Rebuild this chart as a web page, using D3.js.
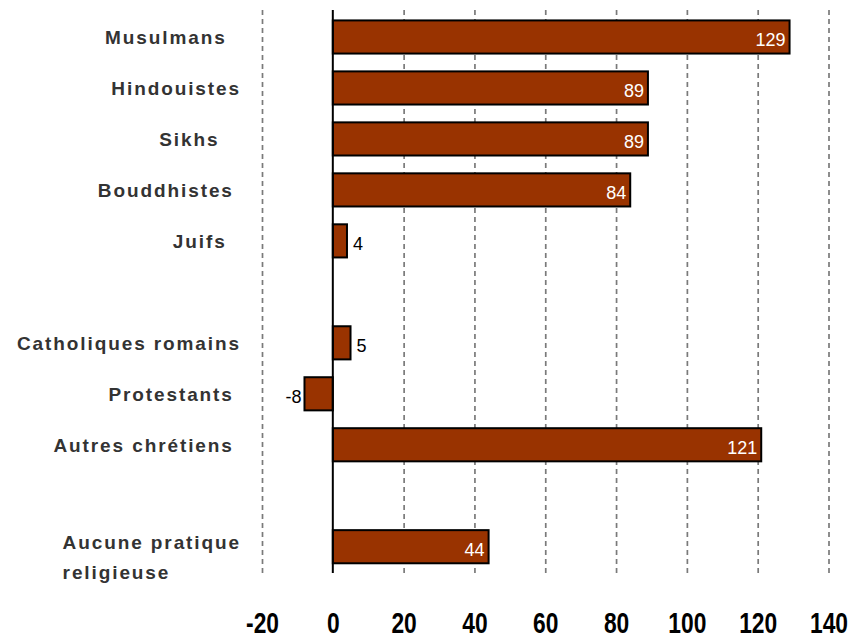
<!DOCTYPE html>
<html>
<head>
<meta charset="utf-8">
<script src="https://cdn.jsdelivr.net/npm/d3@7"></script>
<style>
  html, body { margin: 0; padding: 0; background: #fff; }
  svg { display: block; }
</style>
</head>
<body>
<svg id="chart" width="850" height="640"></svg>
<script>
// ---- data ----
const categories = ["Musulmans  ", "Hindouistes", "Sikhs   ", "Bouddhistes ", "Juifs  ", "",
  "Catholiques romains", "Protestants ", "Autres chrétiens ", "", "Aucune pratique\nreligieuse"];
const values = [129, 89, 89, 84, 4, null, 5, -8, 121, null, 44];
const tickValues = [-20, 0, 20, 40, 60, 80, 100, 120, 140];
const tickLabels = ["-20", "0", "20", "40", "60", "80", "100", "120", "140"];

// ---- layout ----
const svg = d3.select("#chart");
const x = d3.scaleLinear().domain([-20, 140]).range([262, 828.5]);
const y = d3.scaleBand().domain(d3.range(categories.length))
  .range([11.5, 572.2]).paddingInner(0.35).paddingOuter(0.175);
const gridTop = 10, gridBottom = 573;

// gridlines
const grid = svg.append("g").attr("transform", `translate(0,${gridBottom})`)
  .call(d3.axisBottom(x).tickValues(tickValues.filter(d => d !== 0))
    .tickSize(-(gridBottom - gridTop)).tickFormat(""));
grid.select(".domain").remove();
grid.selectAll(".tick line").attr("stroke", "#7a7a7a").attr("stroke-width", 1.7)
  .attr("stroke-dasharray", "5,4");

// bars
const rows = categories.map((c, i) => ({ i, c, v: values[i] })).filter(d => d.v !== null);
svg.append("g").selectAll("rect").data(rows).join("rect")
  .attr("x", d => x(Math.min(0, d.v)))
  .attr("y", d => y(d.i))
  .attr("width", d => Math.abs(x(d.v) - x(0)))
  .attr("height", y.bandwidth())
  .attr("fill", "#993300")
  .attr("stroke", "#000")
  .attr("stroke-width", 2);

// vertical zero axis
const yAxis = svg.append("g").attr("transform", `translate(${x(0)},0)`)
  .call(d3.axisLeft(y).tickSize(0).tickFormat(""));
yAxis.select(".domain").attr("stroke", "#000").attr("stroke-width", 2)
  .attr("d", `M0,${gridTop}V${gridBottom}`);

// value labels
svg.append("g").selectAll("text").data(rows).join("text")
  .attr("x", d => d.v >= 20 ? x(d.v) - 4 : (d.v >= 0 ? x(d.v) + 6 : x(d.v) - 3))
  .attr("y", d => y(d.i) + y.bandwidth() / 2)
  .attr("dy", "0.5em")
  .attr("text-anchor", d => (d.v >= 20 || d.v < 0) ? "end" : "start")
  .attr("fill", d => d.v >= 20 ? "#fff" : "#000")
  .style("font-family", "'Liberation Sans', Arial, sans-serif")
  .style("font-size", "18px")
  .text(d => d.v);

// category labels
const labelRight = 241;
const catRows = categories.map((c, i) => ({ i, c })).filter(d => d.c !== "");
const catG = svg.append("g");
catRows.forEach(d => {
  const lines = d.c.split("\n");
  const cy = y(d.i) + y.bandwidth() / 2;
  const t = catG.append("text")
    .attr("fill", "#333")
    .style("white-space", "pre")
    .style("font-family", "'Liberation Sans', Arial, sans-serif")
    .style("font-size", "19px")
    .style("font-weight", "bold")
    .style("letter-spacing", "1.9px");
  const lineH = 30;
  const firstY = lines.length > 1 ? cy - 5 : cy;
  const spans = lines.map((l, k) => t.append("tspan").attr("y", firstY + k * lineH)
    .attr("dy", "0.36em").text(l));
  const maxW = d3.max(spans, s => s.node().getComputedTextLength());
  spans.forEach(s => s.attr("x", labelRight - maxW));
});

// bottom tick labels
const xAxis = svg.append("g").attr("transform", "translate(0,0)")
  .call(d3.axisBottom(x).tickValues(tickValues).tickSize(0)
    .tickFormat((d, i) => tickLabels[i]));
xAxis.select(".domain").remove();
xAxis.selectAll(".tick text")
  .attr("y", 633).attr("dy", "0")
  .attr("transform", "scale(0.76,1)")
  .attr("fill", "#000")
  .style("font-family", "'Liberation Sans', Arial, sans-serif")
  .style("font-size", "30px")
  .style("font-weight", "bold");
</script>
</body>
</html>
